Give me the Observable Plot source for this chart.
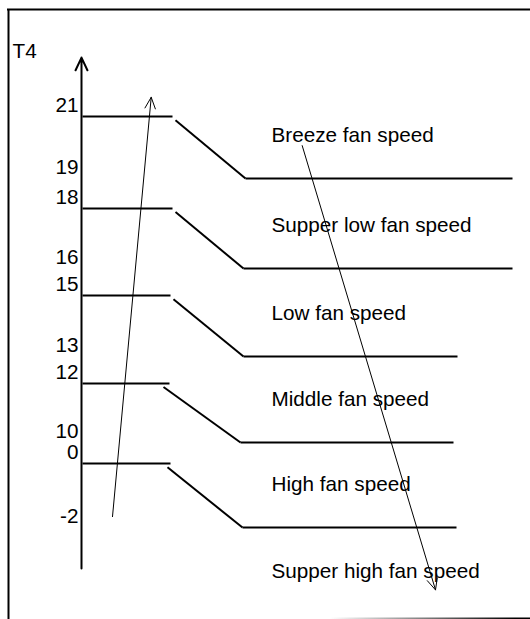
<!DOCTYPE html>
<html>
<head>
<meta charset="utf-8">
<script src="https://cdn.jsdelivr.net/npm/d3@7"></script>
<script src="https://cdn.jsdelivr.net/npm/@observablehq/plot@0.6"></script>
<style>
  body { margin: 0; background: #fff; }
  #chart svg { display: block; }
</style>
</head>
<body>
<div id="chart"></div>
<script>
// ---- data ----
const thresholds = [-2, 0, 10, 12, 13, 15, 16, 18, 19, 21];
const tickLabels = ["-2", "0", "10", "12", "13", "15", "16", "18", "19", "21"];
const levelHigh = [21, 18, 15, 12, 0];     // switch-up thresholds (T4 rising)
const levelLow  = [19, 16, 13, 10, -2];    // switch-back thresholds (T4 falling)
const bandLabels = ["Breeze fan speed", "Supper low fan speed", "Low fan speed",
                    "Middle fan speed", "High fan speed", "Supper high fan speed"];
const bandBound = [19, 16, 13, 10, -2, -2];
const bandSide  = ["above", "above", "above", "above", "above", "below"];
const axisExtent   = [-3.28, 22.9];   // T4 axis from bottom to arrow tip
const risingArrow  = [-1.66, 21.62];  // T4 rising
const fallingArrow = [20.06, -3.95];  // T4 falling
const axisTitle = "T4";

// ---- layout (schematic) ----
const W = 530, H = 619;
const FONT = "'Liberation Sans', Arial, Helvetica, sans-serif";
const FS = 20.7;
const yRange = [527, 463, 442, 383, 356, 295, 268, 208, 178, 116];
const axisX = 81;
const frameTop = 24.45, frameBottom = -4.9, fadeEdge = -4.84;  // y-scale units (extrapolated)
const levelLayout = [
  {hEnd: 172, sStart: 175, sEnd: 245, rEnd: 512},
  {hEnd: 172, sStart: 175, sEnd: 243, rEnd: 512},
  {hEnd: 170, sStart: 173, sEnd: 243, rEnd: 457},
  {hEnd: 169, sStart: 163, sEnd: 240, rEnd: 453},
  {hEnd: 170, sStart: 167, sEnd: 242, rEnd: 456}
];
const levels = levelHigh.map((h, i) => ({high: h, low: levelLow[i], ...levelLayout[i]}));
const bands = bandLabels.map((t, i) => ({text: t, bound: bandBound[i], side: bandSide[i]}));

const chart = Plot.plot({
  width: W,
  height: H,
  margin: 0,
  style: {fontFamily: FONT, fontSize: FS + "px", color: "#000", background: "#fff"},
  x: {type: "linear", domain: [0, W], range: [0, W], axis: null},
  y: {type: "linear", domain: thresholds, range: yRange, axis: null},
  marks: [
    // page border
    Plot.ruleY([frameTop], {x1: 7, x2: W, stroke: "#000", strokeWidth: 2}),
    Plot.ruleX([8], {y1: frameTop, y2: frameBottom, stroke: "#000", strokeWidth: 2}),
    Plot.ruleY([fadeEdge], {x1: 300, x2: W, stroke: "url(#fade)", strokeWidth: 2}),
    // T4 axis
    Plot.arrow([axisExtent], {
      x1: axisX, y1: d => d[0], x2: axisX, y2: d => d[1],
      stroke: "#000", strokeWidth: 2, headLength: 10.5, headAngle: 50
    }),
    Plot.text(thresholds, {
      x: axisX, y: d => d, text: (d, i) => tickLabels[i],
      textAnchor: "end", dx: -3, dy: -11.5, fontSize: FS, fill: "#000"
    }),
    Plot.text([axisTitle], {
      x: 12, y: axisExtent[1], text: d => d, textAnchor: "start",
      dy: -6, fontSize: FS, fill: "#000"
    }),
    // hysteresis steps
    Plot.link(levels, {x1: axisX + 1, y1: "high", x2: "hEnd", y2: "high", stroke: "#000", strokeWidth: 2}),
    Plot.link(levels, {
      x1: "sStart", y1: d => d.high - 0.06 * (d.high - d.low),
      x2: "sEnd", y2: "low", stroke: "#000", strokeWidth: 2
    }),
    Plot.link(levels, {x1: "sEnd", y1: "low", x2: "rEnd", y2: "low", stroke: "#000", strokeWidth: 2}),
    // band labels
    Plot.text(bands.filter(d => d.side === "above"), {
      x: 271, y: "bound", text: "text", textAnchor: "start", dy: -43, fontSize: FS, fill: "#000"
    }),
    Plot.text(bands.filter(d => d.side === "below"), {
      x: 271, y: "bound", text: "text", textAnchor: "start", dy: 44, fontSize: FS, fill: "#000"
    }),
    // rising / falling direction arrows
    Plot.arrow([risingArrow], {
      x1: 112, y1: d => d[0], x2: 150.7, y2: d => d[1],
      stroke: "#000", strokeWidth: 1, headLength: 18.5, headAngle: 50
    }),
    Plot.arrow([fallingArrow], {
      x1: 301.7, y1: d => d[0], x2: 435, y2: d => d[1],
      stroke: "#000", strokeWidth: 1, headLength: 18.5, headAngle: 50
    })
  ]
});

// gradient used by the faded bottom edge
const defs = d3.select(chart).insert("defs", ":first-child");
const grad = defs.append("linearGradient")
  .attr("id", "fade").attr("gradientUnits", "userSpaceOnUse")
  .attr("x1", 330).attr("y1", 0).attr("x2", 515).attr("y2", 0);
grad.append("stop").attr("offset", 0).attr("stop-color", "#fff");
grad.append("stop").attr("offset", 1).attr("stop-color", "#000");

document.getElementById("chart").appendChild(chart);
</script>
</body>
</html>
